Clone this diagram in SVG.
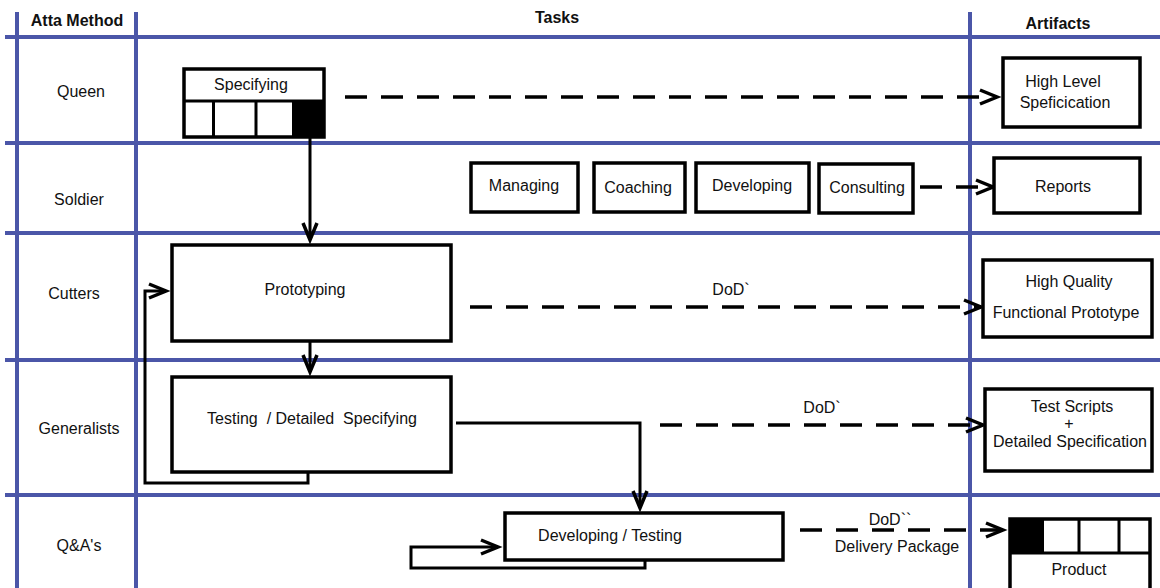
<svg xmlns="http://www.w3.org/2000/svg" width="1160" height="588" viewBox="0 0 1160 588">
<style>
.grid{stroke:#4b56a8;stroke-width:4;fill:none}
.box{fill:#fff;stroke:#000;stroke-width:3.5}
.t{font-family:"Liberation Sans",Arial,sans-serif;font-size:16px;fill:#111;text-anchor:middle;white-space:pre}
.h{font-family:"Liberation Sans",Arial,sans-serif;font-size:16px;font-weight:bold;fill:#111;text-anchor:middle}
.solid{stroke:#000;stroke-width:3;fill:none}
.dash{stroke:#000;stroke-width:3.5;fill:none;stroke-dasharray:22 14}
</style>
<defs>
<marker id="arr" markerUnits="userSpaceOnUse" markerWidth="24" markerHeight="20" refX="19" refY="9" orient="auto" viewBox="0 0 24 20">
<path d="M2,2 L19,9 L2,16" fill="none" stroke="#000" stroke-width="3.5"/>
</marker>
</defs>
<rect width="1160" height="588" fill="#fff"/>
<g id="grid">
<line class="grid" x1="17" y1="12" x2="17" y2="588"/>
<line class="grid" x1="136" y1="12" x2="136" y2="588"/>
<line class="grid" x1="970" y1="12" x2="970" y2="588"/>
<line class="grid" x1="5" y1="37" x2="1160" y2="37"/>
<line class="grid" x1="5" y1="143" x2="1160" y2="143"/>
<line class="grid" x1="5" y1="233" x2="1160" y2="233"/>
<line class="grid" x1="5" y1="360" x2="1160" y2="360"/>
<line class="grid" x1="5" y1="495" x2="1160" y2="495"/>
</g>
<g id="headers">
<text class="h" x="77" y="26">Atta Method</text>
<text class="h" x="557" y="23">Tasks</text>
<text class="h" x="1058" y="29">Artifacts</text>
<text class="t" x="81" y="97">Queen</text>
<text class="t" x="79" y="205">Soldier</text>
<text class="t" x="74" y="299">Cutters</text>
<text class="t" x="79" y="434">Generalists</text>
<text class="t" x="79" y="551">Q&amp;A's</text>
</g>
<g id="connectors">
<path class="solid" d="M310,138 V240" marker-end="url(#arr)"/>
<path class="solid" d="M310,342 V372" marker-end="url(#arr)"/>
<path class="solid" d="M308,473 V483 H145 V291 H166" marker-end="url(#arr)"/>
<path class="solid" d="M456,423 H640 V508" marker-end="url(#arr)"/>
<path class="solid" d="M645,560 V568 H411 V547 H498" marker-end="url(#arr)"/>
<path class="dash" d="M345,97 H997" marker-end="url(#arr)"/>
<path class="dash" d="M920,187 H993" marker-end="url(#arr)"/>
<path class="dash" d="M470,307 H981" marker-end="url(#arr)"/>
<path class="dash" d="M660,425 H983" marker-end="url(#arr)"/>
<path class="dash" d="M800,530 H1003" marker-end="url(#arr)"/>
<text class="t" x="731" y="295">DoD`</text>
<text class="t" x="822" y="413">DoD`</text>
<text class="t" x="890" y="525">DoD``</text>
<text class="t" x="897" y="552">Delivery Package</text>
</g>
<g id="specifying">
<rect class="box" x="184" y="69" width="140" height="68"/>
<line class="solid" x1="184" y1="101" x2="324" y2="101"/>
<line class="solid" x1="213.5" y1="101" x2="213.5" y2="137"/>
<line class="solid" x1="256" y1="101" x2="256" y2="137"/>
<rect x="292" y="101" width="32" height="36" fill="#000"/>
<text class="t" x="251" y="90">Specifying</text>
</g>
<g id="high-level">
<rect class="box" x="1003" y="58" width="137" height="69"/>
<text class="t" x="1063" y="87">High Level</text>
<text class="t" x="1065" y="108">Speficication</text>
</g>
<g id="managing">
<rect class="box" x="471" y="163" width="107" height="49"/>
<text class="t" x="524" y="191">Managing</text>
</g>
<g id="coaching">
<rect class="box" x="594" y="163" width="91" height="49"/>
<text class="t" x="638" y="193">Coaching</text>
</g>
<g id="developing">
<rect class="box" x="696" y="163" width="113" height="49"/>
<text class="t" x="752" y="191">Developing</text>
</g>
<g id="consulting">
<rect class="box" x="819" y="164" width="94" height="49"/>
<text class="t" x="867" y="193">Consulting</text>
</g>
<g id="reports">
<rect class="box" x="994" y="158" width="146" height="55"/>
<text class="t" x="1063" y="192">Reports</text>
</g>
<g id="prototyping">
<rect class="box" x="172" y="245" width="279" height="96"/>
<text class="t" x="305" y="295">Prototyping</text>
</g>
<g id="high-quality">
<rect class="box" x="983" y="260" width="169" height="77"/>
<text class="t" x="1069" y="287">High Quality</text>
<text class="t" x="1066" y="318">Functional Prototype</text>
</g>
<g id="testing">
<rect class="box" x="172" y="377" width="279" height="95"/>
<text class="t" x="312" y="424">Testing  / Detailed  Specifying</text>
</g>
<g id="test-scripts">
<rect class="box" x="985" y="389" width="167" height="82"/>
<text class="t" x="1072" y="412">Test Scripts</text>
<text class="t" x="1069" y="429">+</text>
<text class="t" x="1070" y="447">Detailed Specification</text>
</g>
<g id="developing-testing">
<rect class="box" x="505" y="513" width="278" height="47"/>
<text class="t" x="610" y="541">Developing / Testing</text>
</g>
<g id="product">
<rect class="box" x="1010" y="519" width="140" height="71"/>
<rect x="1010" y="519" width="34" height="34" fill="#000"/>
<line class="solid" x1="1010" y1="553" x2="1150" y2="553"/>
<line class="solid" x1="1079" y1="519" x2="1079" y2="553"/>
<line class="solid" x1="1119" y1="519" x2="1119" y2="553"/>
<text class="t" x="1079" y="575">Product</text>
</g>
</svg>
